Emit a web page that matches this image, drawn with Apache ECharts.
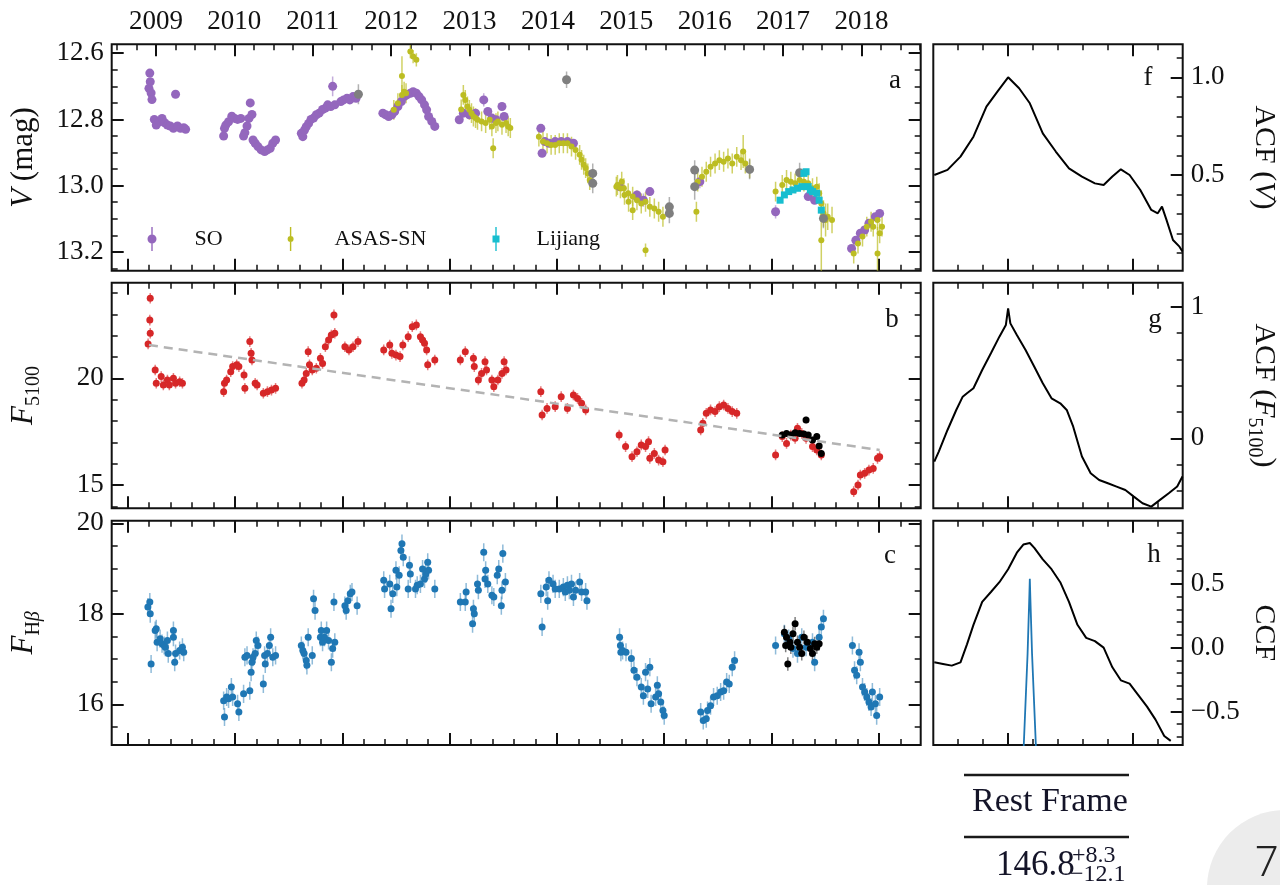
<!DOCTYPE html>
<html><head><meta charset="utf-8">
<script src="https://cdn.jsdelivr.net/npm/echarts@6/dist/echarts.min.js"></script>
<style>html,body{margin:0;padding:0;background:#fff}#c{width:1280px;height:885px}</style>
</head><body><div id="c"></div>
<script>
// ---------------- DATA ----------------
// time axis: t = JD - 2454700 (days); lag axis in days
// Panel a: V magnitudes [t, V, err]
const soData = [
 [99,12.706,.012],[103,12.66,.012],[105,12.686,.012],[109,12.72,.012],[113,12.74,.012],[124,12.80,.01],[133,12.817,.01],[147,12.807,.01],[160,12.797,.01],[172,12.81,.01],[185,12.817,.01],[198,12.82,.01],[213,12.827,.01],[223,12.724,.01],[232,12.82,.01],[246,12.827,.01],[261,12.825,.01],[270,12.83,.01],
 [447,12.85,.012],[451,12.827,.012],[457,12.817,.01],[470,12.807,.01],[485,12.79,.01],[499,12.797,.01],[512,12.80,.01],[527,12.797,.01],[540,12.85,.012],[546,12.84,.01],[556,12.82,.01],[565,12.797,.01],[571,12.75,.01],[579,12.785,.01],[584,12.862,.01],[594,12.872,.01],[607,12.882,.01],[622,12.892,.01],[638,12.897,.01],[651,12.892,.01],[664,12.887,.01],[676,12.872,.01],[689,12.862,.01],
 [809,12.842,.012],[816,12.852,.012],[824,12.832,.01],[832,12.822,.01],[843,12.812,.01],[854,12.80,.01],[866,12.796,.01],[879,12.786,.01],[892,12.781,.01],[908,12.77,.01],[921,12.766,.01],[932,12.756,.01],[946,12.761,.01],[955,12.70,.03],[965,12.756,.01],[993,12.746,.01],[1006,12.741,.01],[1022,12.736,.01],[1035,12.741,.01],[1050,12.731,.01],[1064,12.736,.01],
 [1189,12.781,.01],[1202,12.786,.01],[1216,12.791,.01],[1231,12.786,.01],[1244,12.776,.01],[1259,12.761,.01],[1275,12.746,.01],[1288,12.731,.01],[1301,12.726,.01],[1317,12.721,.01],[1330,12.716,.01],[1345,12.721,.01],[1358,12.731,.01],[1370,12.741,.01],[1383,12.756,.01],[1393,12.771,.01],[1402,12.791,.01],[1417,12.806,.01],[1431,12.821,.01],
 [1545,12.801,.01],[1564,12.781,.01],[1592,12.786,.01],[1621,12.781,.01],[1659,12.741,.02],[1678,12.776,.01],[1697,12.796,.01],[1716,12.801,.01],[1744,12.761,.01],[1754,12.791,.01],
 [1925,12.827,.01],[1931,12.902,.01],[1944,12.867,.01],[1963,12.872,.01],[1992,12.867,.01],[2020,12.867,.01],[2049,12.867,.01],[2077,12.872,.01],
 [2292,13.003,.01],[2372,13.033,.01],[2373,13.028,.01],[2403,13.044,.02],[2433,13.018,.01],
 [2666,12.988,.02],
 [3019,13.079,.02],[3171,13.033,.01],[3201,13.044,.01],
 [3373,13.19,.01],[3393,13.165,.01],[3414,13.144,.01],[3434,13.134,.01],[3454,13.114,.01],[3484,13.094,.01],[3504,13.084,.01]
];
const asasData = [
 [1240,12.771,.03],[1259,12.751,.03],[1278,12.726,.03],[1288,12.716,.03],[1278,12.669,.06],[1297,12.721,.03],[1317,12.595,.02],[1330,12.61,.02],[1345,12.62,.02],
 [1554,12.77,.03],[1564,12.726,.03],[1573,12.741,.03],[1583,12.761,.03],[1592,12.771,.03],[1602,12.781,.03],[1611,12.791,.03],[1621,12.796,.03],[1630,12.801,.03],[1649,12.806,.03],[1668,12.811,.03],[1687,12.801,.03],[1697,12.821,.03],[1703,12.887,.03],[1716,12.811,.03],[1725,12.806,.03],[1744,12.816,.03],[1763,12.811,.03],[1773,12.821,.03],[1783,12.826,.03],
 [1916,12.852,.03],[1935,12.867,.03],[1954,12.872,.03],[1973,12.877,.03],[1992,12.877,.03],[2011,12.872,.03],[2030,12.872,.03],[2049,12.872,.03],[2068,12.882,.03],[2087,12.892,.03],[2106,12.907,.03],[2115,12.922,.03],[2125,12.937,.03],[2134,12.947,.03],[2144,12.963,.03],[2153,12.983,.03],
 [2277,13.003,.03],[2282,12.998,.03],[2296,13.008,.03],[2302,12.988,.03],[2312,13.008,.03],[2315,13.028,.03],[2332,13.023,.03],[2334,13.049,.03],[2353,13.033,.03],[2353,13.074,.03],[2373,13.044,.03],[2393,13.054,.03],[2413,13.049,.03],[2433,13.064,.03],[2454,13.069,.03],[2474,13.079,.03],[2494,13.094,.03],[2413,13.195,.02],
 [2650,13.079,.03],[2656,12.988,.03],[2676,12.973,.03],[2696,12.958,.03],[2716,12.943,.03],[2737,12.933,.03],[2757,12.923,.03],[2777,12.928,.03],[2797,12.918,.03],[2817,12.933,.03],[2838,12.913,.03],[2858,12.923,.03],[2868,12.897,.05],[2878,12.933,.03],[2898,12.948,.03],
 [3019,13.018,.03],[3050,12.998,.03],[3070,12.983,.03],[3090,12.988,.03],[3110,12.993,.03],[3131,12.983,.03],[3151,12.988,.03],[3171,12.993,.03],[3191,13.008,.03],[3211,13.003,.03],[3222,13.023,.03],[3232,13.054,.04],[3242,13.084,.04],[3252,13.104,.05],[3262,13.094,.04],[3232,13.165,.12],[3282,13.104,.04],
 [3383,13.205,.03],[3403,13.175,.03],[3424,13.154,.03],[3444,13.124,.03],[3464,13.109,.03],[3474,13.124,.03],[3494,13.104,.03],[3504,13.144,.03],[3515,13.124,.03],[3494,13.205,.08]
];
const lijiangData = [
 [3040,13.044,.008],[3060,13.028,.008],[3080,13.018,.008],[3100,13.013,.008],[3121,13.008,.008],[3141,13.003,.008],[3151,12.963,.008],[3161,12.958,.008],[3171,13.003,.008],[3181,13.013,.008],[3191,13.018,.008],[3211,13.023,.008],[3222,13.044,.008],[3232,13.074,.008]
];
const otherData = [
 [1075,12.724,.03],[2045,12.68,.025],[2167,12.963,.03],[2167,12.993,.03],[2524,13.064,.03],[2524,13.084,.03],[2642,12.953,.03],[2642,13.003,.04],[2898,12.951,.03],[3131,12.961,.03],[3242,13.099,.03]
];
// Panel b: F5100 [t, F, err]
const f5100Data = [
 [95,21.61,.25],[103,22.73,.25],[105,22.11,.25],[105,23.75,.25],[128,20.39,.25],[133,19.77,.25],[156,20.08,.25],[166,19.69,.25],[185,19.92,.25],[194,19.69,.25],[213,20.0,.25],[223,19.77,.25],[242,19.84,.25],[255,19.77,.25],
 [447,19.375,.25],[451,19.77,.25],[461,19.92,.25],[480,20.31,.25],[489,20.55,.25],[508,20.63,.25],[518,20.55,.25],[542,20.16,.25],[546,19.53,.25],[569,21.72,.25],[575,21.17,.25],[579,20.86,.25],[594,19.77,.25],[603,19.69,.25],[632,19.30,.25],[651,19.375,.25],[670,19.45,.25],[689,19.53,.25],
 [812,19.77,.25],[822,19.92,.25],[832,20.23,.25],[841,21.25,.25],[847,20.63,.25],[860,20.39,.25],[879,20.47,.25],[898,20.94,.25],[908,20.70,.25],[921,21.48,.25],[936,21.80,.25],[949,22.03,.25],[961,22.97,.25],[965,22.11,.25],[1012,21.48,.25],[1031,21.33,.25],[1050,21.48,.25],[1073,21.72,.25],
 [1193,21.33,.25],[1221,21.56,.25],[1231,21.17,.25],[1250,21.09,.25],[1269,21.02,.25],[1282,21.56,.25],[1307,21.95,.25],[1326,22.42,.25],[1345,22.5,.25],[1364,21.95,.25],[1374,21.80,.25],[1383,21.64,.25],[1393,21.33,.25],[1398,20.63,.25],[1431,20.86,.25],
 [1550,20.86,.25],[1573,21.25,.25],[1611,20.94,.25],[1615,20.55,.25],[1634,19.92,.25],[1649,20.23,.25],[1665,20.78,.25],[1672,20.39,.25],[1697,19.92,.25],[1706,19.61,.25],[1725,19.92,.25],[1744,20.23,.25],[1754,20.78,.25],[1763,20.39,.25],
 [1925,19.375,.25],[1931,18.28,.25],[1954,18.59,.25],[1992,18.67,.25],[2020,19.14,.25],[2049,18.59,.25],[2077,19.22,.25],[2096,19.06,.25],[2115,18.83,.25],[2134,18.52,.25],
 [2290,17.34,.25],[2320,16.80,.25],[2350,16.33,.25],[2373,16.56,.25],[2393,16.88,.25],[2413,16.80,.25],[2427,17.03,.25],[2433,16.25,.25],[2454,16.48,.25],[2474,16.17,.25],[2494,16.09,.25],[2504,16.64,.25],
 [2670,17.58,.25],[2680,17.89,.25],[2696,18.36,.25],[2716,18.52,.25],[2737,18.44,.25],[2757,18.67,.25],[2777,18.75,.25],[2797,18.59,.25],[2817,18.44,.25],[2838,18.36,.25],
 [3019,16.41,.25],[3050,17.27,.25],[3070,16.95,.25],[3090,17.34,.25],[3110,17.19,.25],[3121,17.66,.25],[3141,17.42,.25],[3161,17.19,.25],[3191,16.80,.25],[3211,16.64,.25],[3232,16.41,.25],
 [3383,14.69,.25],[3403,15.0,.25],[3414,15.47,.25],[3434,15.55,.25],[3454,15.70,.25],[3474,15.78,.25],[3494,16.25,.25],[3504,16.33,.25]
];
const f5100Extra = [
 [3050,17.34,.15],[3070,17.42,.15],[3090,17.34,.15],[3110,17.45,.15],[3131,17.42,.15],[3151,17.39,.15],[3161,18.05,.15],[3171,17.34,.15],[3191,17.11,.15],[3211,17.27,.15],[3222,16.83,.15],[3232,16.48,.15]
];
const trendT = [99, 3504];
const trendF = [21.56, 16.64];
// Panel c: F_Hbeta [t, F, err]
const hbData = [
 [94,18.15,.2],[103,18.26,.2],[105,18.0,.2],[109,16.89,.2],[128,17.63,.2],[133,17.67,.2],[137,17.37,.2],[151,17.45,.2],[160,17.34,.2],[170,17.30,.2],[175,17.26,.2],[185,17.41,.2],[189,17.12,.2],[213,17.63,.2],[213,17.48,.2],[219,16.93,.2],[223,17.12,.2],[242,17.19,.2],[255,17.26,.2],[261,17.15,.2],
 [447,16.08,.2],[451,15.72,.2],[461,16.16,.2],[470,16.12,.2],[483,16.38,.2],[489,16.16,.2],[512,16.01,.2],[518,15.83,.2],[540,16.23,.2],[546,17.04,.2],[556,17.08,.2],[569,16.30,.2],[575,16.71,.2],[579,16.93,.2],[584,17.04,.2],[594,17.12,.2],[599,17.41,.2],[607,17.30,.2],[632,16.45,.2],[638,17.08,.2],[641,16.89,.2],[651,17.12,.2],[660,17.30,.2],[666,17.48,.2],[676,17.04,.2],[689,17.08,.2],
 [809,17.30,.2],[816,17.19,.2],[822,17.12,.2],[832,16.97,.2],[835,16.86,.2],[841,17.48,.2],[860,17.08,.2],[866,18.33,.2],[873,18.07,.2],[898,17.48,.2],[902,17.63,.2],[908,17.37,.2],[917,17.48,.2],[927,17.63,.2],[936,17.41,.2],[949,16.93,.2],[955,17.23,.2],[961,18.26,.2],[965,17.37,.2],[1012,18.18,.2],[1018,18.07,.2],[1026,18.29,.2],[1037,18.44,.2],[1045,18.48,.2],[1069,18.18,.2],
 [1193,18.74,.2],[1197,18.55,.2],[1221,18.66,.2],[1227,18.11,.2],[1235,18.44,.2],[1250,18.96,.2],[1254,18.59,.2],[1265,18.85,.2],[1273,19.40,.2],[1278,19.55,.2],[1284,19.25,.2],[1307,18.55,.2],[1313,19.07,.2],[1317,18.88,.2],[1341,18.55,.2],[1349,18.63,.2],[1364,18.66,.2],[1374,18.99,.2],[1383,18.77,.2],[1389,18.88,.2],[1398,19.14,.2],[1402,18.96,.2],[1431,18.55,.2],
 [1550,18.26,.2],[1573,18.26,.2],[1577,18.48,.2],[1607,17.78,.2],[1611,18.11,.2],[1615,18.0,.2],[1630,18.66,.2],[1634,18.52,.2],[1659,19.36,.2],[1665,18.77,.2],[1668,18.96,.2],[1678,18.66,.2],[1697,18.41,.2],[1706,18.37,.2],[1722,18.85,.2],[1729,18.99,.2],[1741,18.18,.2],[1744,18.52,.2],[1748,19.33,.2],[1760,18.70,.2],
 [1925,18.44,.2],[1931,17.71,.2],[1950,18.59,.2],[1957,18.29,.2],[1963,18.74,.2],[1982,18.66,.2],[1992,18.55,.2],[2011,18.55,.2],[2030,18.59,.2],[2039,18.48,.2],[2049,18.63,.2],[2058,18.52,.2],[2068,18.66,.2],[2077,18.37,.2],[2087,18.52,.2],[2106,18.70,.2],[2115,18.48,.2],[2134,18.48,.2],[2140,18.29,.2],
 [2292,17.48,.2],[2296,17.30,.2],[2298,17.15,.2],[2306,17.19,.2],[2322,17.15,.2],[2347,17.01,.2],[2359,16.75,.2],[2373,16.60,.2],[2393,16.38,.2],[2403,16.19,.2],[2413,16.71,.2],[2423,16.34,.2],[2433,16.82,.2],[2439,16.01,.2],[2460,16.16,.2],[2468,16.42,.2],[2474,16.23,.2],[2484,16.05,.2],[2494,15.86,.2],[2500,15.75,.2],
 [2670,15.83,.2],[2682,15.64,.2],[2696,15.68,.2],[2702,15.86,.2],[2716,15.97,.2],[2730,16.16,.2],[2747,16.19,.2],[2763,16.27,.2],[2777,16.30,.2],[2791,16.49,.2],[2803,16.45,.2],[2817,16.82,.2],[2828,16.97,.2],
 [3019,17.30,.2],[3060,17.56,.2],[3080,17.45,.2],[3100,17.23,.2],[3121,17.12,.2],[3141,17.48,.2],[3161,17.26,.2],[3191,17.37,.2],[3201,16.93,.2],[3222,17.48,.2],[3232,17.71,.2],[3242,17.89,.2],
 [3377,17.30,.2],[3387,16.75,.2],[3397,16.64,.2],[3408,17.15,.2],[3414,16.93,.2],[3424,16.38,.2],[3434,16.27,.2],[3444,16.16,.2],[3454,16.05,.2],[3464,15.94,.2],[3470,16.27,.2],[3484,16.01,.2],[3490,15.75,.2],[3504,16.16,.2]
];
const hbExtra = [
 [3060,17.59,.15],[3066,17.30,.15],[3070,17.48,.15],[3076,16.89,.15],[3086,17.37,.15],[3090,17.26,.15],[3100,17.56,.15],[3110,17.78,.15],[3121,17.37,.15],[3131,17.26,.15],[3141,17.12,.15],[3151,17.48,.15],[3167,17.37,.15],[3181,17.23,.15],[3191,17.12,.15],[3201,17.34,.15],[3211,17.26,.15],[3222,17.34,.15]
];
// Right panels: correlation functions vs lag (days)
const acfVLag = [-296,-243,-191,-139,-87,-43,0,44,87,139,191,244,296,348,383,418,452,487,530,574,600,617,635,661,687,699];
const acfVVal = [0.50,0.526,0.594,0.696,0.85,0.927,1.0,0.944,0.867,0.713,0.62,0.534,0.492,0.457,0.449,0.492,0.529,0.50,0.423,0.321,0.304,0.338,0.27,0.167,0.133,0.108];
const acfFLag = [-296,-278,-243,-208,-182,-165,-139,-104,-69,-35,-9,0,9,35,70,105,139,174,209,235,261,296,331,365,400,435,470,504,539,574,609,644,678,699];
const acfFVal = [-0.177,-0.101,0.063,0.215,0.316,0.342,0.38,0.519,0.646,0.772,0.861,0.987,0.873,0.785,0.671,0.544,0.418,0.304,0.266,0.215,0.088,-0.139,-0.266,-0.317,-0.342,-0.367,-0.393,-0.443,-0.494,-0.519,-0.468,-0.418,-0.367,-0.291];
const ccfLag = [-296,-261,-226,-191,-165,-139,-104,-69,-35,0,35,61,87,105,139,174,209,244,278,313,348,383,418,452,487,522,557,591,626,652];
const ccfVal = [-0.115,-0.128,-0.141,-0.115,0.026,0.179,0.359,0.436,0.513,0.615,0.744,0.808,0.82,0.782,0.692,0.615,0.513,0.359,0.179,0.077,0.051,0,-0.154,-0.256,-0.282,-0.372,-0.462,-0.564,-0.692,-0.731];
const cccdLag = [62,78,85,87,89,96,112];
const cccdVal = [-0.8,-0.05,0.4,0.54,0.4,-0.05,-0.8];
// tick labels
const yearLabels = [2009,2010,2011,2012,2013,2014,2015,2016,2017,2018];
const dayMajor = [0,500,1000,1500,2000,2500,3000,3500];
const lagMajor = [0,500];
const vMajor = [12.6,12.8,13.0,13.2];
const f5100Major = [15,20];
const hbMajor = [16,18,20];
const acfVMajor = [0.5,1.0];
const acfFMajor = [0,1];
const ccfMajor = [-0.5,0.0,0.5];

// ---------------- LAYOUT / STYLE ----------------
const FONT = '"Liberation Serif","Times New Roman",serif';
const INK = '#111';
const TICK_FS = 27;
const T_MIN = -74.6, T_MAX = 3695.2, LAG_MIN = -300, LAG_MAX = 700;
const yrOf = t => 2000 + (t + 2454700 - 2451544.5) / 365.25;
const grids = [
 {left:111.7, top:44.3, width:809, height:226.4},
 {left:111.7, top:282.7, width:809, height:225.6},
 {left:111.7, top:520.7, width:809, height:224.3},
 {left:933.3, top:44.3, width:249.4, height:226.4},
 {left:933.3, top:282.7, width:249.4, height:225.6},
 {left:933.3, top:520.7, width:249.4, height:224.3}
];
function range(a,b,s){const o=[];for(let i=0;a+i*s<=b+1e-9;i++)o.push(Math.round((a+i*s)*1e6)/1e6);return o;}
function minorOf(vals, majors, lo, hi){return vals.filter(v=>v>lo+1e-6&&v<hi-1e-6&&!majors.some(m=>Math.abs(m-v)<1e-6));}

const xAxes=[], yAxes=[];
function tickAxis(list, grid, position, min, max, ticks, len, width, extra){
  list.push(Object.assign({
    type:'value', gridIndex:grid, position, min, max,
    axisLine:{show:false,onZero:false}, splitLine:{show:false},
    axisTick:{show:true, inside:true, length:len, customValues:ticks, lineStyle:{color:INK,width}},
    axisLabel:{show:false}, axisPointer:{show:false}, silent:true
  }, extra||{}));
  return list.length-1;
}
function labelCfg(vals, fmt){return {show:true, customValues:vals, formatter:fmt, color:INK, fontFamily:FONT, fontSize:TICK_FS, margin:8};}
function makeRich(fs){return {
  i:{fontFamily:FONT,fontSize:fs,fontStyle:'italic',color:INK,lineHeight:fs+9},
  r:{fontFamily:FONT,fontSize:fs,color:INK,lineHeight:fs+9},
  s:{fontFamily:FONT,fontSize:Math.round(fs*0.65),color:INK,lineHeight:Math.round(fs*0.68),verticalAlign:'bottom'},
  si:{fontFamily:FONT,fontSize:Math.round(fs*0.65),fontStyle:'italic',color:INK,lineHeight:Math.round(fs*0.68),verticalAlign:'bottom'}
};}
function nameCfg(name, gap, rot, fs){return {name, nameLocation:'middle', nameGap:gap, nameRotate:rot, nameMoveOverlap:false, nameTextStyle:{fontFamily:FONT,fontSize:fs,color:INK,rich:makeRich(fs)}};}

const panels = [
 {grid:0, xr:[T_MIN,T_MAX], xMaj:dayMajor, xStep:100, topYear:true, yr:[12.573,13.257], inv:true, yMaj:vMajor, yStep:0.05, side:'left', fmt:v=>v.toFixed(1), name:'{i|V}{r| (mag)}', gap:68},
 {grid:1, xr:[T_MIN,T_MAX], xMaj:dayMajor, xStep:100, yr:[13.91,24.48], yMaj:f5100Major, yStep:1, side:'left', fmt:v=>String(v), name:'{i|F}{s|5100}', gap:68},
 {grid:2, xr:[T_MIN,T_MAX], xMaj:dayMajor, xStep:100, yr:[15.10,20.057], yMaj:hbMajor, yStep:0.5, side:'left', fmt:v=>String(v), name:'{i|F}{s|H}{si|β}', gap:68},
 {grid:3, xr:[LAG_MIN,LAG_MAX], xMaj:lagMajor, xStep:100, yr:[0.010,1.169], yMaj:acfVMajor, yStep:0.1, side:'right', fmt:v=>v.toFixed(1), name:'{r|ACF (}{i|V}{r|)}', gap:62},
 {grid:4, xr:[LAG_MIN,LAG_MAX], xMaj:lagMajor, xStep:100, yr:[-0.532,1.182], yMaj:acfFMajor, yStep:0.2, side:'right', fmt:v=>String(v), name:'{r|ACF (}{i|F}{s|5100}{r|)}', gap:62},
 {grid:5, xr:[LAG_MIN,LAG_MAX], xMaj:lagMajor, xStep:100, yr:[-0.763,0.995], yMaj:ccfMajor, yStep:0.1, side:'right', fmt:v=>(v<0?'\u2212'+(-v).toFixed(1):v.toFixed(1)), name:'{r|CCF}', gap:62}
];
const idx = [];
panels.forEach(p=>{
  const xMin = minorOf(range(Math.ceil(p.xr[0]/p.xStep)*p.xStep, p.xr[1], p.xStep), p.xMaj, p.xr[0], p.xr[1]);
  const xi = tickAxis(xAxes,p.grid,'bottom',p.xr[0],p.xr[1],p.xMaj,12,2);
  tickAxis(xAxes,p.grid,'bottom',p.xr[0],p.xr[1],xMin,6,1.5);
  if(p.topYear){
    const y0=yrOf(p.xr[0]), y1=yrOf(p.xr[1]);
    const qMinor = minorOf(range(Math.ceil(y0*4)/4, y1, 0.25), yearLabels, y0, y1);
    tickAxis(xAxes,p.grid,'top',y0,y1,yearLabels,12,2,{axisLabel:{show:true,customValues:yearLabels,formatter:v=>String(Math.round(v)),color:INK,fontFamily:FONT,fontSize:TICK_FS,margin:9}});
    tickAxis(xAxes,p.grid,'top',y0,y1,qMinor,6,1.5);
  } else {
    tickAxis(xAxes,p.grid,'top',p.xr[0],p.xr[1],p.xMaj,12,2);
    tickAxis(xAxes,p.grid,'top',p.xr[0],p.xr[1],xMin,6,1.5);
  }
  const yMin = minorOf(range(Math.ceil(p.yr[0]/p.yStep)*p.yStep, p.yr[1], p.yStep), p.yMaj, p.yr[0], p.yr[1]);
  const inv = !!p.inv;
  let yi;
  if(p.side==='left'){
    yi = tickAxis(yAxes,p.grid,'left',p.yr[0],p.yr[1],p.yMaj,12,2,Object.assign({inverse:inv,axisLabel:labelCfg(p.yMaj,p.fmt)},nameCfg(p.name,p.gap,90,31)));
    tickAxis(yAxes,p.grid,'left',p.yr[0],p.yr[1],yMin,6,1.5,{inverse:inv});
    tickAxis(yAxes,p.grid,'right',p.yr[0],p.yr[1],p.yMaj,12,2,{inverse:inv});
    tickAxis(yAxes,p.grid,'right',p.yr[0],p.yr[1],yMin,6,1.5,{inverse:inv});
  } else {
    yi = tickAxis(yAxes,p.grid,'right',p.yr[0],p.yr[1],p.yMaj,12,2,{axisLabel:labelCfg(p.yMaj,p.fmt)});
    // axis title carried by the label-free minor-tick axis
    tickAxis(yAxes,p.grid,'right',p.yr[0],p.yr[1],yMin,6,1.5,nameCfg(p.name,p.gap,-90,30));
  }
  idx.push({x:xi,y:yi});
});

const series = [];
function errSeries(pi, data, color, w){
  series.push({type:'custom', name:'_err', xAxisIndex:idx[pi].x, yAxisIndex:idx[pi].y, data, clip:true, silent:true,
    encode:{x:0,y:1},
    renderItem:(params,api)=>{const x=api.value(0),y=api.value(1),e=api.value(2);
      const a=api.coord([x,y-e]), b=api.coord([x,y+e]);
      return {type:'line',shape:{x1:a[0],y1:a[1],x2:b[0],y2:b[1]},style:{stroke:color,lineWidth:w||1.5}};}});
}
function ptSeries(pi, name, data, color, symbol, size){
  series.push({type:'scatter', name, xAxisIndex:idx[pi].x, yAxisIndex:idx[pi].y, data:data.map(d=>[d[0],d[1]]), symbol, symbolSize:size, itemStyle:{color,opacity:1}, silent:true, clip:true});
}
function lineSeries(pi, name, xs, ys, color, w, dash){
  series.push({type:'line', name, xAxisIndex:idx[pi].x, yAxisIndex:idx[pi].y, data:xs.map((x,i)=>[x,ys[i]]), showSymbol:false, symbol:'none', lineStyle:{color,width:w,type:dash||'solid'}, silent:true, clip:true, z:3});
}
// Panel a
errSeries(0, soData, 'rgba(148,103,189,0.55)');
ptSeries(0, 'SO', soData, '#9467bd', 'circle', 9);
errSeries(0, asasData, 'rgba(188,189,34,0.7)');
ptSeries(0, 'ASAS-SN', asasData, '#bcbd22', 'circle', 6);
errSeries(0, otherData, 'rgba(127,127,127,0.6)');
ptSeries(0, 'other', otherData, '#7f7f7f', 'circle', 9);
errSeries(0, lijiangData, 'rgba(23,190,207,0.6)');
ptSeries(0, 'Lijiang', lijiangData, '#17becf', 'rect', 7);
// Panel b
lineSeries(1, 'trend', trendT, trendF, '#b3b3b3', 2.5, [9,6]);
errSeries(1, f5100Data, 'rgba(214,39,40,0.6)');
ptSeries(1, 'F5100', f5100Data, '#d62728', 'circle', 7);
errSeries(1, f5100Extra, 'rgba(0,0,0,0.5)');
ptSeries(1, 'F5100b', f5100Extra, '#000', 'circle', 7);
// Panel c
errSeries(2, hbData, 'rgba(31,119,180,0.5)');
ptSeries(2, 'Hb', hbData, '#1f77b4', 'circle', 7);
errSeries(2, hbExtra, 'rgba(0,0,0,0.5)');
ptSeries(2, 'Hbb', hbExtra, '#000', 'circle', 7);
// right panels
lineSeries(3, 'acfV', acfVLag, acfVVal, '#000', 2);
lineSeries(4, 'acfF', acfFLag, acfFVal, '#000', 2);
lineSeries(5, 'ccf', ccfLag, ccfVal, '#000', 2);
lineSeries(5, 'cccd', cccdLag, cccdVal, '#1f77b4', 1.8);

function legendOne(name, left, w, icon, pad){
  return {show:true, data:[{name, icon}], left, top:227, itemWidth:w, itemHeight:24, selectedMode:false, padding:0,
    textStyle:{fontFamily:FONT, fontSize:22, color:INK, padding:[0,0,0,pad]}};
}
const legends = [
  legendOne('SO', 147.5, 9, 'path://M3.8,0L5.2,0L5.2,24L3.8,24ZM0,12A4.5,4.5 0 1 1 9,12A4.5,4.5 0 1 1 0,12Z', 33),
  legendOne('ASAS-SN', 287.6, 6, 'path://M2.3,0L3.7,0L3.7,24L2.3,24ZM0,12A3,3 0 1 1 6,12A3,3 0 1 1 0,12Z', 36),
  legendOne('Lijiang', 492.5, 7, 'path://M2.8,0L4.2,0L4.2,24L2.8,24ZM0,8.5L7,8.5L7,15.5L0,15.5Z', 32)
];

const letterFont = '27px '+FONT;
const letters = [['a',895,81],['b',892,320],['c',890,556],['f',1148,78],['g',1155,320],['h',1154,555]];
const graphic = letters.map(l=>({type:'text', x:l[1], y:l[2], silent:true, style:{text:l[0], font:letterFont, fill:INK, align:'center', verticalAlign:'middle'}}));
graphic.push(
  {type:'line', silent:true, shape:{x1:964,y1:775,x2:1129,y2:775}, style:{stroke:'#1a1a1a', lineWidth:2.5}},
  {type:'text', silent:true, x:1050, y:802, style:{text:'Rest Frame', font:'34px '+FONT, fill:'#141428', align:'center', verticalAlign:'middle'}},
  {type:'line', silent:true, shape:{x1:964,y1:837,x2:1129,y2:837}, style:{stroke:'#1a1a1a', lineWidth:2.5}},
  {type:'text', silent:true, x:996, y:866, style:{text:'146.8', font:'35px '+FONT, fill:'#141428', align:'left', verticalAlign:'middle'}},
  {type:'text', silent:true, x:1072, y:856, style:{text:'+8.3', font:'24px '+FONT, fill:'#141428', align:'left', verticalAlign:'middle'}},
  {type:'text', silent:true, x:1070, y:875, style:{text:'\u221212.1', font:'24px '+FONT, fill:'#141428', align:'left', verticalAlign:'middle'}},
  {type:'circle', silent:true, shape:{cx:1285, cy:888, r:78}, style:{fill:'#ececec'}, z:-1},
  {type:'text', silent:true, x:1267, y:865, style:{text:'7', font:'300 42px Roboto, "Liberation Sans", sans-serif', fill:'#222', align:'center', verticalAlign:'middle'}}
);

const chart = echarts.init(document.getElementById('c'), null, {renderer:'canvas'});
chart.setOption({
  animation:false, backgroundColor:'#fff',
  grid: grids.map(g=>Object.assign({show:true, borderColor:INK, borderWidth:2, backgroundColor:'transparent', containLabel:false, outerBoundsMode:'none'}, g)),
  xAxis:xAxes, yAxis:yAxes, legend:legends, series, graphic, tooltip:{show:false}
});
</script></body></html>
